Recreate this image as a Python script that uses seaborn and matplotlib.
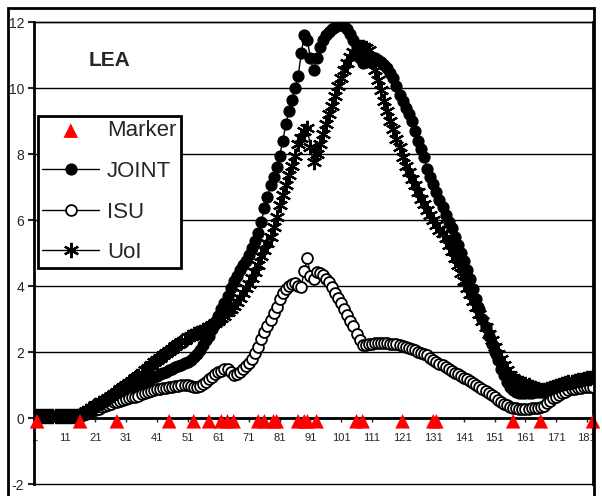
import matplotlib
matplotlib.use('Agg')
import matplotlib.pyplot as plt
from matplotlib.patches import Rectangle
import seaborn as sns

# category axis 1..183
days = list(range(1, 184))

joint = [0.05, 0.05, 0.05, 0.05, 0.05, 0.05, 0.05, 0.05, 0.05, 0.05,
         0.05, 0.05, 0.05, 0.05, 0.05, 0.08, 0.12, 0.16, 0.2, 0.25,
         0.3, 0.35, 0.4, 0.45, 0.5, 0.55, 0.6, 0.65, 0.7, 0.75,
         0.8, 0.85, 0.9, 0.95, 1.0, 1.05, 1.1, 1.15, 1.2, 1.25,
         1.28, 1.32, 1.36, 1.4, 1.45, 1.5, 1.54, 1.58, 1.62, 1.66,
         1.7, 1.75, 1.85, 1.95, 2.05, 2.2, 2.35, 2.5, 2.7, 2.9,
         3.1, 3.3, 3.5, 3.7, 3.95, 4.15, 4.3, 4.5, 4.65, 4.75,
         4.95, 5.15, 5.35, 5.6, 5.95, 6.35, 6.7, 7.05, 7.3, 7.6,
         7.95, 8.4, 8.9, 9.3, 9.65, 10.0, 10.35, 11.05, 11.6, 11.45,
         10.9, 10.55, 10.9, 11.25, 11.45, 11.6, 11.7, 11.8, 11.85, 11.9,
         11.9, 11.88, 11.8, 11.65, 11.45, 11.2, 10.9, 10.75, 10.8, 10.85,
         10.9, 10.9, 10.85, 10.8, 10.7, 10.6, 10.45, 10.3, 10.05, 9.8,
         9.6, 9.4, 9.2, 9.0, 8.7, 8.4, 8.15, 7.9, 7.55, 7.3,
         7.1, 6.85, 6.6, 6.4, 6.15, 5.95, 5.75, 5.5, 5.25, 5.0,
         4.75, 4.5, 4.2, 3.9, 3.6, 3.3, 3.0, 2.75, 2.5, 2.25,
         2.0, 1.75, 1.5, 1.3, 1.1, 0.95, 0.85, 0.78, 0.75, 0.75,
         0.75, 0.76, 0.77, 0.78, 0.78, 0.78, 0.78, 0.8, 0.83, 0.87,
         0.9, 0.95, 1.0, 1.03, 1.06, 1.09, 1.12, 1.15, 1.18, 1.2,
         1.22, 1.24, 1.25]

isu = [0.05, 0.05, 0.05, 0.05, 0.05, 0.05, 0.05, 0.05, 0.05, 0.05,
       0.05, 0.05, 0.05, 0.05, 0.05, 0.07, 0.1, 0.13, 0.17, 0.2,
       0.24, 0.28, 0.32, 0.36, 0.4, 0.43, 0.47, 0.5, 0.53, 0.56,
       0.58, 0.61, 0.63, 0.65, 0.68, 0.72, 0.75, 0.78, 0.82, 0.85,
       0.87, 0.89, 0.9, 0.92, 0.94, 0.95, 0.97, 0.98, 1.0, 1.0,
       0.99, 0.97, 0.95, 0.95, 0.98, 1.04, 1.1, 1.17, 1.25, 1.32,
       1.38, 1.43, 1.47, 1.5, 1.4, 1.3, 1.33, 1.4, 1.48, 1.58,
       1.68, 1.8, 1.97, 2.15, 2.4, 2.62, 2.8, 2.98, 3.17, 3.35,
       3.6, 3.78, 3.92, 4.0, 4.05, 4.08, 4.0, 3.98, 4.45, 4.84,
       4.3, 4.2, 4.43, 4.4, 4.33, 4.22, 4.12, 3.97, 3.8, 3.63,
       3.5, 3.3, 3.12, 2.95, 2.78, 2.55, 2.35, 2.22, 2.22, 2.24,
       2.25, 2.26, 2.26, 2.26, 2.26, 2.26, 2.25, 2.25, 2.24, 2.2,
       2.18, 2.16, 2.12, 2.08, 2.05, 2.0, 1.97, 1.93, 1.9, 1.83,
       1.75, 1.7, 1.65, 1.6, 1.55, 1.5, 1.43, 1.37, 1.32, 1.27,
       1.22, 1.17, 1.11, 1.05, 1.0, 0.95, 0.88, 0.82, 0.76, 0.7,
       0.63, 0.55, 0.48, 0.43, 0.38, 0.34, 0.3, 0.29, 0.28, 0.28,
       0.28, 0.28, 0.29, 0.3, 0.31, 0.33, 0.37, 0.45, 0.53, 0.6,
       0.65, 0.7, 0.75, 0.8, 0.84, 0.87, 0.89, 0.91, 0.92, 0.93,
       0.93, 0.94, 0.94]

uoi = [0.05, 0.05, 0.05, 0.05, 0.05, 0.05, 0.05, 0.05, 0.05, 0.05,
       0.05, 0.05, 0.05, 0.05, 0.05, 0.1, 0.15, 0.2, 0.25, 0.3,
       0.38, 0.45, 0.5, 0.55, 0.6, 0.67, 0.73, 0.8, 0.87, 0.93,
       1.0, 1.07, 1.13, 1.2, 1.28, 1.36, 1.45, 1.53, 1.62, 1.7,
       1.77, 1.83, 1.9, 1.97, 2.04, 2.1, 2.17, 2.23, 2.3, 2.37,
       2.44, 2.5, 2.54, 2.58, 2.62, 2.66, 2.7, 2.75, 2.82, 2.88,
       2.95, 3.03, 3.1, 3.2, 3.3, 3.4, 3.52, 3.65, 3.8, 3.95,
       4.05, 4.25, 4.43, 4.65, 4.9, 5.1, 5.3, 5.5, 5.8, 6.1,
       6.45, 6.75, 7.05, 7.35, 7.65, 7.95, 8.3, 8.5, 8.7, 8.8,
       8.2, 7.75, 8.0, 8.3, 8.6, 8.9, 9.2, 9.45, 9.75, 10.05,
       10.3, 10.55, 10.75, 10.95, 11.1, 11.2, 11.25, 11.25, 11.2, 11.15,
       10.85, 10.55, 10.25, 9.95, 9.6, 9.3, 9.0, 8.75, 8.45, 8.2,
       7.9, 7.65, 7.45, 7.25, 7.05, 6.85, 6.65, 6.5, 6.3, 6.15,
       6.0, 5.85, 5.7, 5.6, 5.45, 5.25, 5.05, 4.85, 4.65, 4.4,
       4.15, 3.95, 3.75, 3.55, 3.35, 3.15, 2.95, 2.75, 2.55, 2.35,
       2.15, 1.95, 1.8, 1.62, 1.45, 1.3, 1.2, 1.12, 1.08, 1.05,
       1.03, 1.0, 0.95, 0.9, 0.87, 0.85, 0.85, 0.88, 0.9, 0.93,
       0.96, 1.0, 1.03, 1.06, 1.09, 1.1, 1.12, 1.14, 1.16, 1.18,
       1.2, 1.22, 1.24]

# red triangles along the zero line
marker_days = [2, 16, 28, 45, 53, 58, 62, 64, 66, 74, 76, 79, 80,
               87, 89, 90, 93, 106, 108, 121, 131, 132, 157, 166, 183]
marker_level = [-0.1] * len(marker_days)

x_ticks = list(range(1, 182, 10))
y_ticks = list(range(-2, 13, 2))

sns.set_style('white')
plt.rcParams['font.family'] = ['Liberation Sans', 'DejaVu Sans']
plt.rcParams['axes.unicode_minus'] = False

fig = plt.figure(figsize=(6.02, 4.96), dpi=100)
ax = fig.add_axes([34 / 602, 12 / 496, 559 / 602, 462 / 496])

# data series
sns.scatterplot(x=marker_days, y=marker_level, ax=ax, marker='^', color='red',
                s=110, edgecolor='none', clip_on=False, zorder=6, label='Marker')
sns.lineplot(x=days, y=joint, ax=ax, color='black', lw=1, marker='o', ms=7.8,
             mfc='black', mec='black', mew=1, label='JOINT', zorder=3)
sns.lineplot(x=days, y=isu, ax=ax, color='black', lw=1, marker='o', ms=7.8,
             mfc='white', mec='black', mew=1.3, label='ISU', zorder=4)
sns.lineplot(x=days, y=uoi, ax=ax, color='black', lw=1, marker=(6, 2, 0), ms=11,
             mfc='black', mec='black', mew=1.6, label='UoI', zorder=5)

# axes
ax.set_xlim(1, 183)
ax.set_ylim(-2, 12)
ax.set_xticks(x_ticks)
ax.set_yticks(y_ticks)
ax.set_xlabel('')
ax.set_ylabel('')
ax.yaxis.grid(True, color='black', lw=1)
for gl in ax.get_ygridlines():
    gl.set_clip_on(False)
ax.spines['bottom'].set_position(('data', 0))
ax.spines['bottom'].set_linewidth(2)
ax.spines['left'].set_linewidth(2)
ax.spines['right'].set_linewidth(2)
ax.spines['top'].set_linewidth(1)
for s in ax.spines.values():
    s.set_color('black')
ax.tick_params(axis='x', direction='out', length=3, width=1, pad=8,
               labelsize=8, bottom=True)
ax.tick_params(axis='y', direction='out', length=4, width=1.5, pad=3,
               labelsize=10, left=True)

# legend in Excel order
handles, labels = ax.get_legend_handles_labels()
order = [labels.index(n) for n in ['Marker', 'JOINT', 'ISU', 'UoI']]
leg = ax.legend([handles[i] for i in order], [labels[i] for i in order],
                loc='upper left', bbox_to_anchor=(38 / 602, 1 - 116 / 496),
                bbox_transform=fig.transFigure, borderaxespad=0,
                fontsize=16, frameon=True, fancybox=False, framealpha=1,
                edgecolor='black', borderpad=0.2, handlelength=2.55,
                handletextpad=0.35, labelspacing=0.88)
leg.get_frame().set_linewidth(2)

fig.text(110 / 602, 1 - 61 / 496, 'LEA', ha='center', va='center',
         fontsize=15, weight='bold')

# outer chart border
fig.add_artist(Rectangle((8 / 602, -0.05), 586 / 602, 1 - 8 / 496 + 0.05,
                         transform=fig.transFigure, fill=False, lw=2,
                         ec='black', clip_on=False))

fig.savefig('out.png', dpi=100)
